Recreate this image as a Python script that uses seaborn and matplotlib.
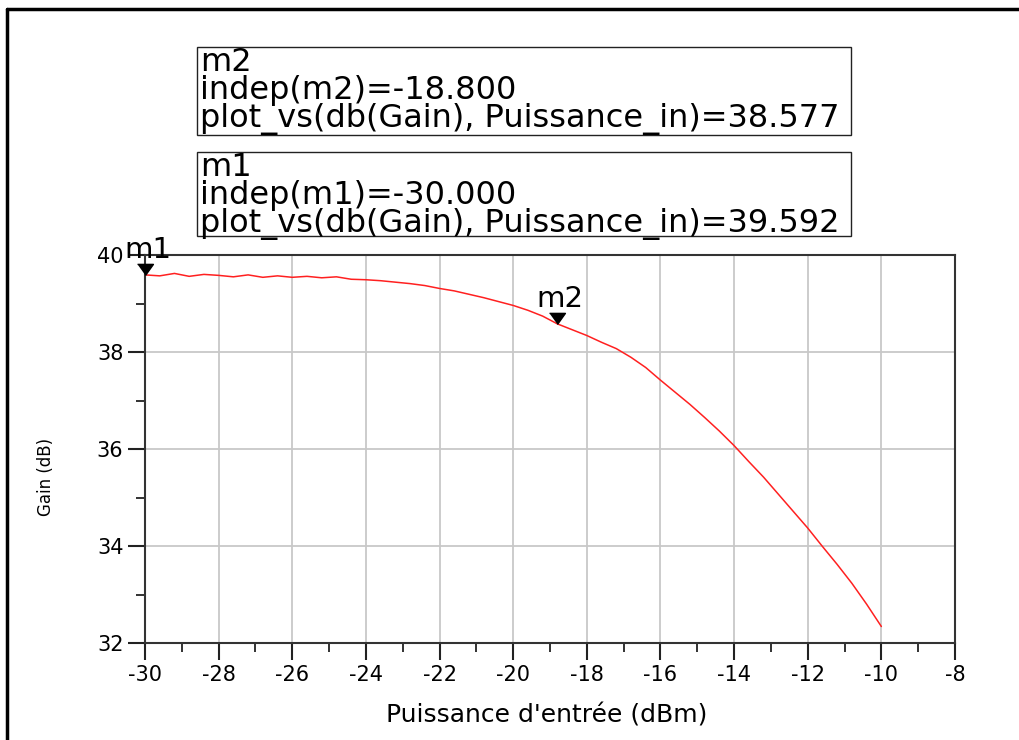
import matplotlib
matplotlib.use('Agg')
import matplotlib.pyplot as plt
from matplotlib.lines import Line2D
from matplotlib.patches import Rectangle
from matplotlib.ticker import MultipleLocator
import seaborn as sns
import pandas as pd

# Input power sweep (dBm) and measured gain (dB)
puissance_in = [-30.0, -29.6, -29.2, -28.8, -28.4, -28.0, -27.6, -27.2, -26.8, -26.4,
                -26.0, -25.6, -25.2, -24.8, -24.4, -24.0, -23.6, -23.2, -22.8, -22.4,
                -22.0, -21.6, -21.2, -20.8, -20.4, -20.0, -19.6, -19.2, -18.8, -18.4,
                -18.0, -17.6, -17.2, -16.8, -16.4, -16.0, -15.6, -15.2, -14.8, -14.4,
                -14.0, -13.6, -13.2, -12.8, -12.4, -12.0, -11.6, -11.2, -10.8, -10.4,
                -10.0]
gain_db = [39.59, 39.57, 39.62, 39.56, 39.60, 39.58, 39.55, 39.59, 39.54, 39.57,
           39.54, 39.56, 39.53, 39.55, 39.50, 39.49, 39.47, 39.44, 39.41, 39.37,
           39.31, 39.26, 39.19, 39.12, 39.04, 38.96, 38.86, 38.74, 38.58, 38.46,
           38.34, 38.20, 38.07, 37.89, 37.68, 37.42, 37.17, 36.92, 36.65, 36.37,
           36.07, 35.74, 35.42, 35.07, 34.72, 34.37, 33.99, 33.62, 33.23, 32.80,
           32.34]

# Markers
marker_names = ['m1', 'm2']
marker_x = [-30.0, -18.8]
marker_y = [39.592, 38.577]

df = pd.DataFrame({'Puissance_in': puissance_in, 'Gain': gain_db})

sns.set_style('white')
plt.rcParams['font.family'] = ['DejaVu Sans']
plt.rcParams['axes.unicode_minus'] = False
plt.rcParams['text.color'] = 'black'
plt.rcParams['xtick.color'] = 'black'
plt.rcParams['ytick.color'] = 'black'

fig = plt.figure(figsize=(10.19, 7.40), dpi=100)
ax = fig.add_axes([145 / 1019, 1 - 643 / 740, 810 / 1019, 388 / 740])

sns.lineplot(data=df, x='Puissance_in', y='Gain', ax=ax, color='#ff2020', linewidth=1.1)

ax.set_xlim(-30, -8)
ax.set_ylim(32, 40)
ax.xaxis.set_major_locator(MultipleLocator(2))
ax.xaxis.set_minor_locator(MultipleLocator(1))
ax.yaxis.set_major_locator(MultipleLocator(2))
ax.yaxis.set_minor_locator(MultipleLocator(1))
ax.grid(True, which='major', color='#c8c8c8', linewidth=1.3)
ax.tick_params(which='major', direction='out', length=12.5, width=1.5, color='#222222',
               labelsize=15, pad=3, bottom=True, left=True, labelcolor='black')
ax.tick_params(which='minor', direction='out', length=6.5, width=1.3, color='#222222',
               bottom=True, left=True)
for s in ax.spines.values():
    s.set_color('#333333')
    s.set_linewidth(1.5)
ax.set_xlabel('')
ax.set_ylabel('')

# marker triangles with tip on the curve
tri = [(-1, 1.4), (1, 1.4), (0, 0)]
for name, mx, my in zip(marker_names, marker_x, marker_y):
    ax.plot([mx], [my], marker=tri, markersize=16, color='black', linestyle='none',
            clip_on=False, zorder=5)
    ax.annotate(name, xy=(mx, my), xytext=(2, 12), textcoords='offset points',
                ha='center', va='baseline', fontsize=21, color='black',
                annotation_clip=False, zorder=6)

# axis labels
fig.text(547 / 1019, 1 - 715 / 740, "Puissance d'entrée (dBm)", ha='center', va='center',
         fontsize=18, color='black')
fig.text(46 / 1019, 1 - 477 / 740, 'Gain (dB)', ha='center', va='center',
         rotation=90, fontsize=12, color='black')

# marker readout boxes
boxes = [
    (47, 135, ['m2', 'indep(m2)=-18.800', 'plot_vs(db(Gain), Puissance_in)=38.577']),
    (152, 236, ['m1', 'indep(m1)=-30.000', 'plot_vs(db(Gain), Puissance_in)=39.592']),
]
for top, bottom, lines in boxes:
    fig.add_artist(Rectangle((197 / 1019, 1 - bottom / 740), 654 / 1019, (bottom - top) / 740,
                             transform=fig.transFigure, fill=False, edgecolor='#222222',
                             linewidth=1.0))
    fig.text(200 / 1019, 1 - (top + 44) / 740, '\n'.join(lines), ha='left', va='center',
             fontsize=23, linespacing=0.86, color='black')

# outer frame
fig.add_artist(Line2D([7 / 1019, 1.0], [1 - 9 / 740, 1 - 9 / 740], transform=fig.transFigure,
                      color='black', linewidth=2.5))
fig.add_artist(Line2D([7 / 1019, 7 / 1019], [0.0, 1 - 9 / 740], transform=fig.transFigure,
                      color='black', linewidth=2.5))

fig.savefig('out.png', dpi=100, facecolor='white')
plt.close()
